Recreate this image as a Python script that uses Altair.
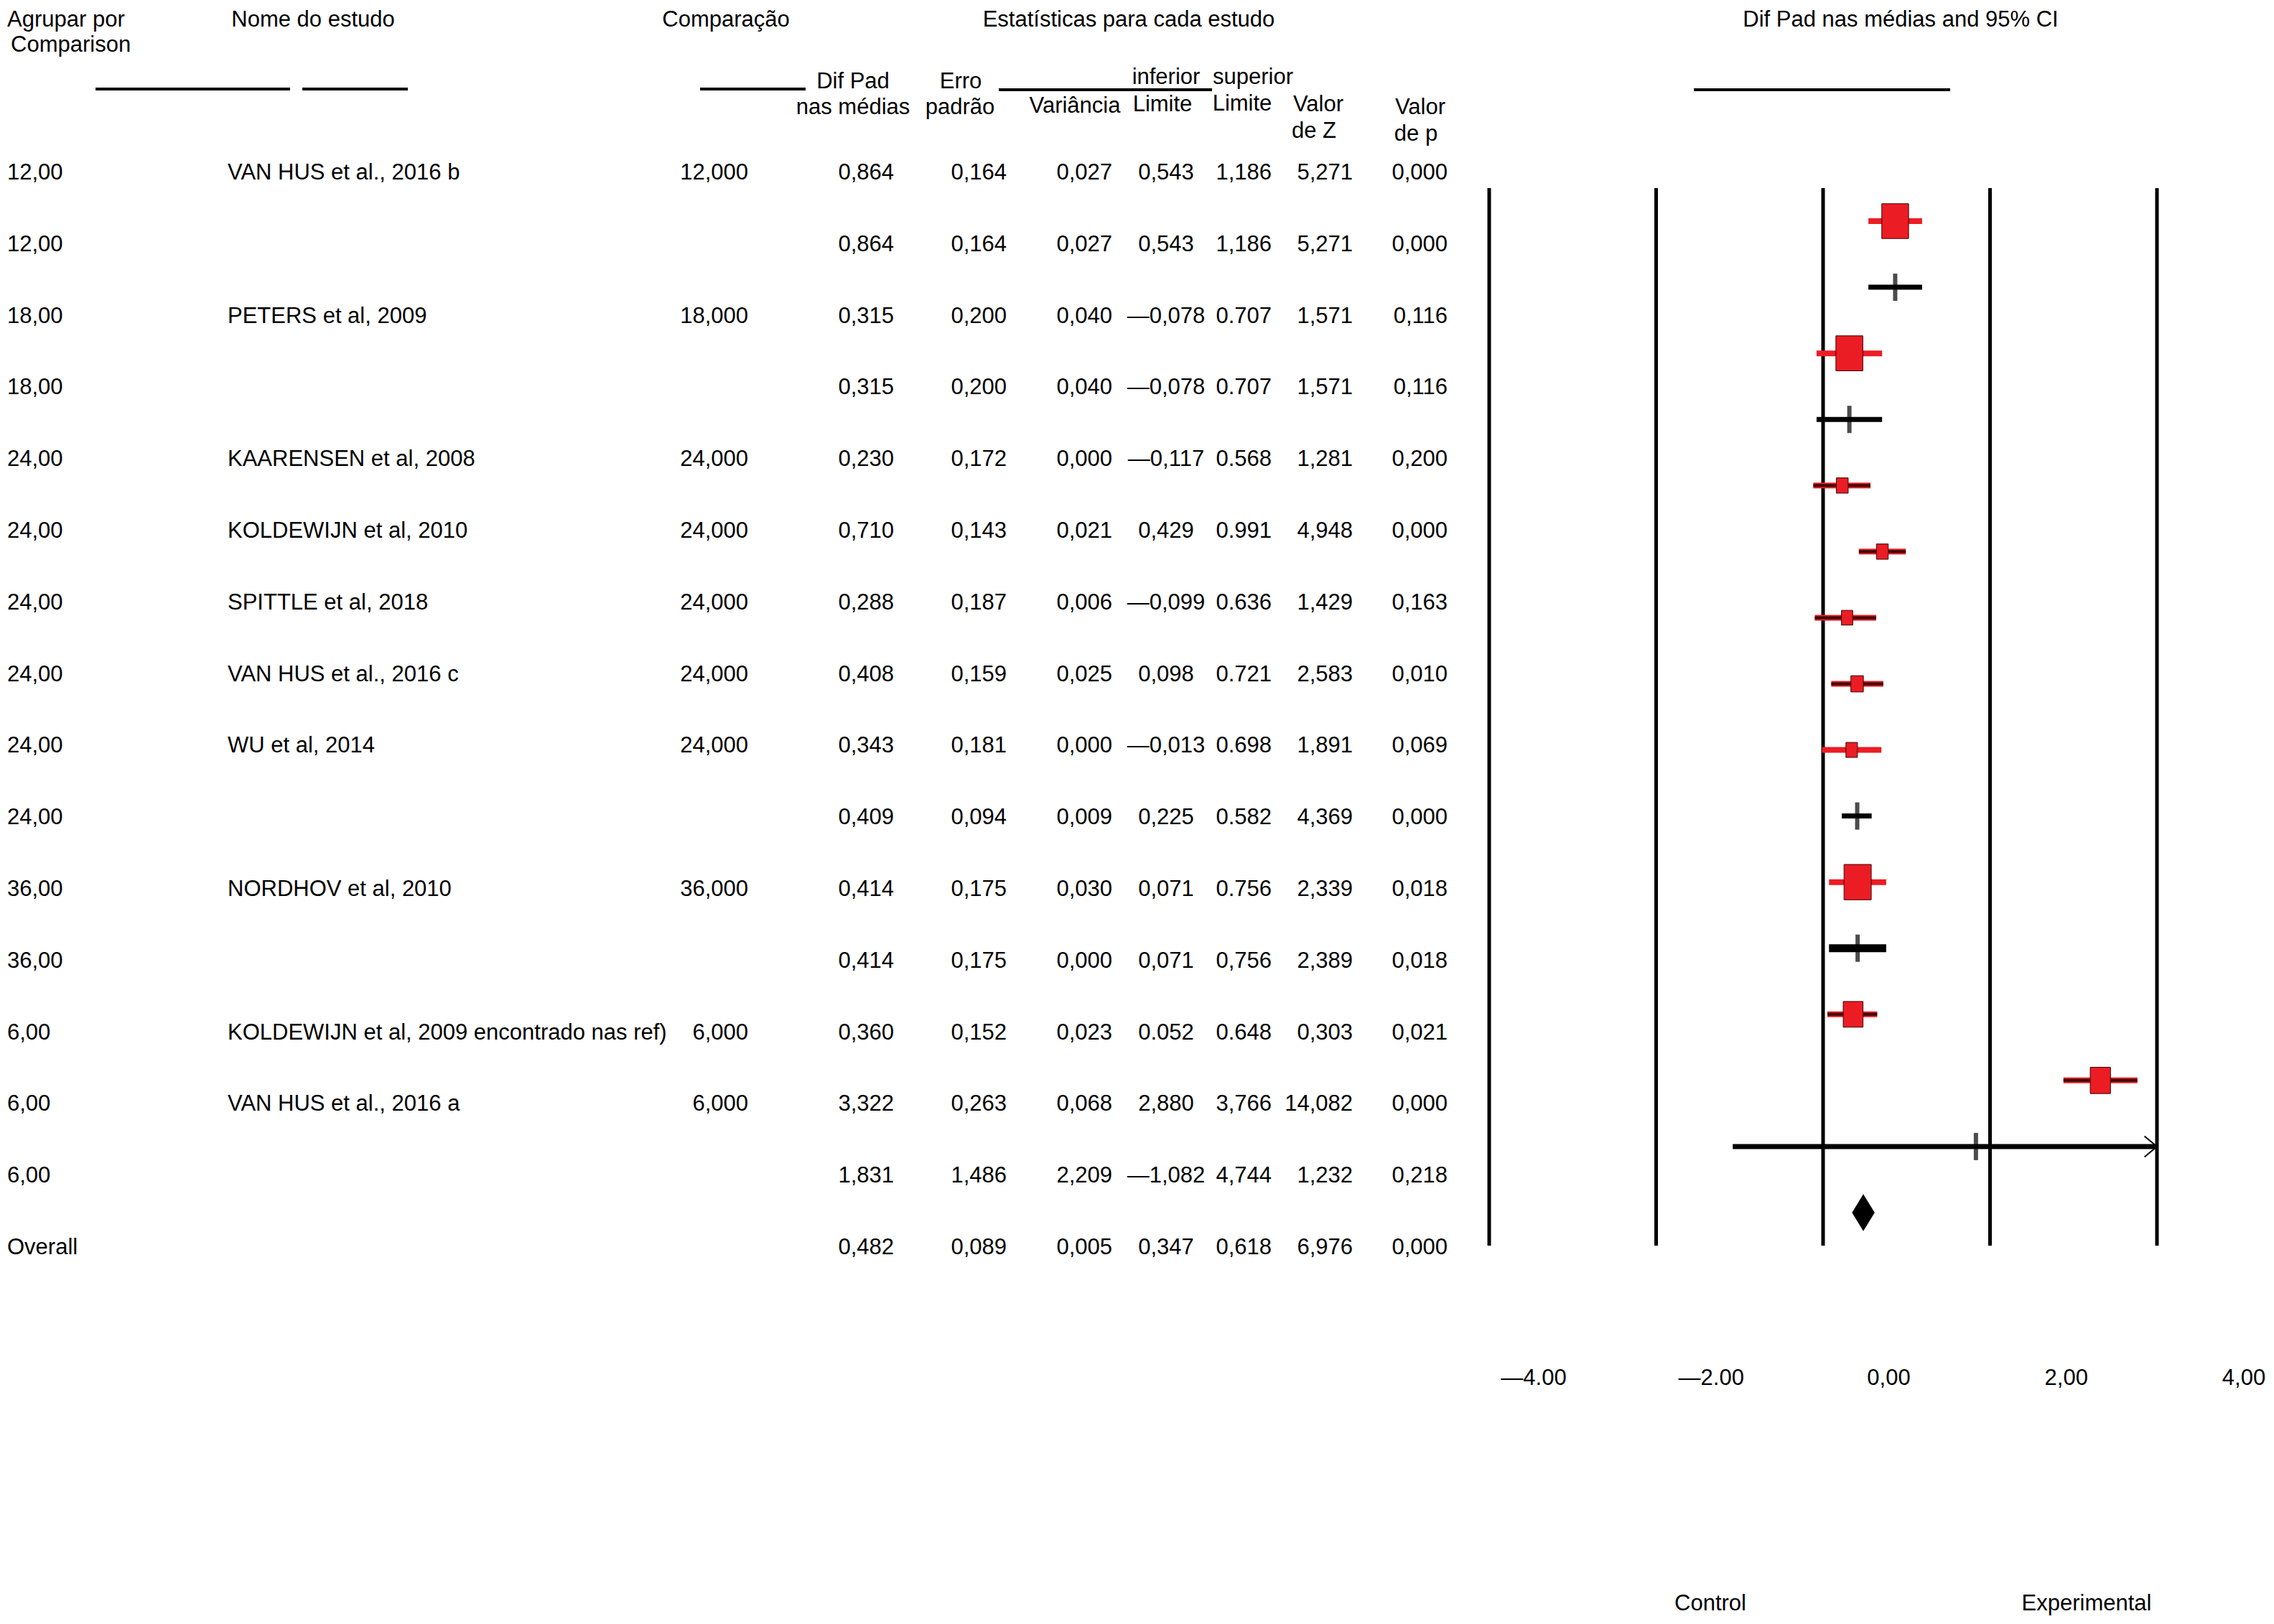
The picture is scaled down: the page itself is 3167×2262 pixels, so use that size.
import altair as alt
import pandas as pd

# ---------------- data (as printed in the reference) ----------------
grupo = ["12,00", "12,00", "18,00", "18,00", "24,00", "24,00", "24,00", "24,00",
         "24,00", "24,00", "36,00", "36,00", "6,00", "6,00", "6,00", "Overall"]
estudo = ["VAN HUS et al., 2016 b", "", "PETERS et al, 2009", "",
          "KAARENSEN et al, 2008", "KOLDEWIJN et al, 2010", "SPITTLE et al, 2018",
          "VAN HUS et al., 2016 c", "WU et al, 2014", "", "NORDHOV et al, 2010", "",
          "KOLDEWIJN et al, 2009 encontrado nas ref)", "VAN HUS et al., 2016 a", "", ""]
comparacao = ["12,000", "", "18,000", "", "24,000", "24,000", "24,000", "24,000",
              "24,000", "", "36,000", "", "6,000", "6,000", "", ""]
dif_pad = ["0,864", "0,864", "0,315", "0,315", "0,230", "0,710", "0,288", "0,408",
           "0,343", "0,409", "0,414", "0,414", "0,360", "3,322", "1,831", "0,482"]
erro_padrao = ["0,164", "0,164", "0,200", "0,200", "0,172", "0,143", "0,187", "0,159",
               "0,181", "0,094", "0,175", "0,175", "0,152", "0,263", "1,486", "0,089"]
variancia = ["0,027", "0,027", "0,040", "0,040", "0,000", "0,021", "0,006", "0,025",
             "0,000", "0,009", "0,030", "0,000", "0,023", "0,068", "2,209", "0,005"]
limite_inferior = ["0,543", "0,543", "\u20140,078", "\u20140,078", "\u20140,117", "0,429",
                   "\u20140,099", "0,098", "\u20140,013", "0,225", "0,071", "0,071",
                   "0.052", "2,880", "\u20141,082", "0,347"]
limite_superior = ["1,186", "1,186", "0.707", "0.707", "0.568", "0.991", "0.636", "0.721",
                   "0.698", "0.582", "0.756", "0,756", "0.648", "3,766", "4,744", "0,618"]
valor_z = ["5,271", "5,271", "1,571", "1,571", "1,281", "4,948", "1,429", "2,583",
           "1,891", "4,369", "2,339", "2,389", "0,303", "14,082", "1,232", "6,976"]
valor_p = ["0,000", "0,000", "0,116", "0,116", "0,200", "0,000", "0,163", "0,010",
           "0,069", "0,000", "0,018", "0,018", "0,021", "0,000", "0,218", "0,000"]
tipo = ["estudo", "subgrupo", "estudo", "subgrupo", "estudo", "estudo", "estudo", "estudo",
        "estudo", "subgrupo", "estudo", "subgrupo", "estudo", "estudo", "subgrupo", "global"]
# relative weight of each study
peso = [9.8, None, 9.9, None, 1.9, 1.9, 1.75, 2.14, 1.82, None, 10.1, None, 5.35, 5.6, None, None]

eixo_valores = [-4, -2, 0, 2, 4]
eixo_rotulos = ["\u20144.00", "\u20142.00", "0,00", "2,00", "4,00"]

# ---------------- layout / style ----------------
W, H = 3151, 2242
M = 8  # page margin; layout numbers below are page coordinates
FONT = "Liberation Sans"
FS = 31
RED = "#ec1c24"
DARK = "#3a0707"

COL_X = {"grupo": 10, "estudo": 317, "comparacao": 1042, "dif": 1245, "erro": 1402,
         "var": 1549, "inf": 1624, "sup": 1771, "z": 1884, "p": 2016}
COL_ALIGN = {"grupo": "left", "estudo": "left", "comparacao": "right", "dif": "right",
             "erro": "right", "var": "right", "inf": "center", "sup": "right",
             "z": "right", "p": "right"}
TABLE_ROWS_Y = (241, 1738)     # first / last table row centre
FOREST_ROWS_Y = (308, 1689)    # first / last forest row centre
FOREST_X = (2074, 3004)        # -4 / +4 on the effect scale
TICKLABEL_X = (2136, 3125)     # -4 / +4 tick label centres
TICKLABEL_Y = 1920
LINE_DARK = [False, None, False, None, True, True, True, True, False, None, False, None, True, True, None, None]
SUB_WIDTH = {2: 7, 4: 7, 10: 7, 12: 11, 15: 7}

headers = [
    ("Agrupar por", 10, 28, "left"), ("Comparison", 15, 63, "left"),
    ("Nome do estudo", 436, 28, "center"), ("Compara\u00e7\u00e3o", 1011, 28, "center"),
    ("Estat\u00edsticas para cada estudo", 1572, 28, "center"),
    ("Dif Pad nas m\u00e9dias and 95% CI", 2647, 28, "center"),
    ("Dif Pad", 1188, 114, "center"), ("nas m\u00e9dias", 1188, 150, "center"),
    ("Erro", 1338, 114, "center"), ("padr\u00e3o", 1337, 150, "center"),
    ("Vari\u00e2ncia", 1497, 148, "center"),
    ("inferior", 1624, 108, "center"), ("Limite", 1619, 146, "center"),
    ("superior", 1745, 108, "center"), ("Limite", 1730, 145, "center"),
    ("Valor", 1836, 146, "center"), ("de Z", 1830, 183, "center"),
    ("Valor", 1978, 150, "center"), ("de p", 1972, 187, "center"),
    ("Control", 2382, 2234, "center"), ("Experimental", 2906, 2234, "center"),
]
header_rules = [(133, 404, 124), (421, 568, 124), (975, 1122, 124),
                (1391, 1688, 125), (2359, 2716, 125)]

# ---------------- scales ----------------
def sc(domain, rng):
    return alt.Scale(domain=list(domain), range=list(rng), nice=False, zero=False)

SX_PX = sc([M, W + M], [0, W])
SY_PX = sc([M, H + M], [0, H])
SY_TAB = sc([1, 16], [TABLE_ROWS_Y[0] - M, TABLE_ROWS_Y[1] - M])
SY_FOR = sc([1, 16], [FOREST_ROWS_Y[0] - M, FOREST_ROWS_Y[1] - M])
SX_FOR = sc([-4, 4], [FOREST_X[0] - M, FOREST_X[1] - M])
SX_TL = sc([-4, 4], [TICKLABEL_X[0] - M, TICKLABEL_X[1] - M])


def num(s):
    return float(s.replace("\u2014", "-").replace(",", "."))


# ---------------- tables ----------------
cols = {"grupo": grupo, "estudo": estudo, "comparacao": comparacao, "dif": dif_pad,
        "erro": erro_padrao, "var": variancia, "inf": limite_inferior,
        "sup": limite_superior, "z": valor_z, "p": valor_p}
recs = []
for k, vals in cols.items():
    for i, v in enumerate(vals):
        if v:
            recs.append({"row": i + 1, "texto": v, "xpos": COL_X[k], "al": COL_ALIGN[k]})
tab = pd.DataFrame(recs)

forest = pd.DataFrame({
    "row": list(range(1, 17)),
    "tipo": tipo,
    "est": [num(s) for s in dif_pad],
    "lower": [num(s) for s in limite_inferior],
    "upper": [num(s) for s in limite_superior],
    "peso": peso,
    "dark": LINE_DARK,
})
forest["lo_c"] = forest["lower"].clip(lower=-4)
forest["up_c"] = forest["upper"].clip(upper=4)
forest["esp"] = [SUB_WIDTH.get(r, 7) for r in forest["row"]]

studies = forest[forest.tipo == "estudo"]
subs = forest[forest.tipo == "subgrupo"]
glob = forest[forest.tipo == "global"].iloc[0]

hdr = pd.DataFrame(headers, columns=["texto", "xpos", "ypos", "al"])
hrules = pd.DataFrame(header_rules, columns=["x1", "x2", "y"])

layers = []

# header underlines
layers.append(alt.Chart(hrules).mark_rule(color="black", strokeWidth=4).encode(
    x=alt.X("x1:Q", scale=SX_PX, axis=None), x2="x2:Q",
    y=alt.Y("y:Q", scale=SY_PX, axis=None)))

# header texts
for al in ["left", "center"]:
    layers.append(alt.Chart(hdr[hdr.al == al]).mark_text(
        align=al, baseline="middle", font=FONT, fontSize=FS, color="black").encode(
        x=alt.X("xpos:Q", scale=SX_PX, axis=None),
        y=alt.Y("ypos:Q", scale=SY_PX, axis=None),
        text="texto:N"))

# table cells
for al in ["left", "right", "center"]:
    layers.append(alt.Chart(tab[tab.al == al]).mark_text(
        align=al, baseline="middle", font=FONT, fontSize=FS, color="black").encode(
        x=alt.X("xpos:Q", scale=SX_PX, axis=None),
        y=alt.Y("row:Q", scale=SY_TAB, axis=None),
        text="texto:N"))

# forest vertical reference lines
vl = pd.DataFrame({"v": eixo_valores, "y1": [0.5] * 5, "y2": [16.5] * 5})
layers.append(alt.Chart(vl).mark_rule(color="black", strokeWidth=5).encode(
    x=alt.X("v:Q", scale=SX_FOR, axis=None),
    y=alt.Y("y1:Q", scale=SY_FOR, axis=None), y2="y2:Q"))

# study CIs
layers.append(alt.Chart(studies).mark_rule(color=RED, strokeWidth=8).encode(
    x=alt.X("lo_c:Q", scale=SX_FOR, axis=None), x2="up_c:Q",
    y=alt.Y("row:Q", scale=SY_FOR, axis=None)))
layers.append(alt.Chart(studies[studies.dark == True]).mark_rule(color=DARK, strokeWidth=4).encode(
    x=alt.X("lo_c:Q", scale=SX_FOR, axis=None), x2="up_c:Q",
    y=alt.Y("row:Q", scale=SY_FOR, axis=None)))

# study squares (size ~ weight)
BOX = "M-0.77,-1L0.77,-1L0.77,1L-0.77,1Z"
layers.append(alt.Chart(studies).mark_point(
    shape=BOX, filled=True, color=RED, opacity=1, stroke=DARK, strokeWidth=1).encode(
    x=alt.X("est:Q", scale=SX_FOR, axis=None),
    y=alt.Y("row:Q", scale=SY_FOR, axis=None),
    size=alt.Size("peso:Q", scale=alt.Scale(domain=[0, 10], range=[0, 2400]), legend=None)))

# subgroup summaries: line + vertical tick
layers.append(alt.Chart(subs).mark_rule(color="black").encode(
    x=alt.X("lo_c:Q", scale=SX_FOR, axis=None), x2="up_c:Q",
    y=alt.Y("row:Q", scale=SY_FOR, axis=None),
    strokeWidth=alt.StrokeWidth("esp:Q", scale=None)))
layers.append(alt.Chart(subs).mark_tick(color="black", orient="vertical", size=38, thickness=6).encode(
    x=alt.X("est:Q", scale=SX_FOR, axis=None),
    y=alt.Y("row:Q", scale=SY_FOR, axis=None)))

# arrow where CI runs off the scale
ARROW = "M-1.2,-1L0,0L-1.2,1"
layers.append(alt.Chart(subs[subs.upper > 4]).mark_point(
    shape=ARROW, filled=False, color="black", strokeWidth=2, size=841, opacity=1).encode(
    x=alt.X("up_c:Q", scale=SX_FOR, axis=None),
    y=alt.Y("row:Q", scale=SY_FOR, axis=None)))

# overall diamond
dia = pd.DataFrame({
    "x": [glob.lower, glob.est, glob.upper],
    "y1": [glob.row, glob.row - 0.28, glob.row],
    "y2": [glob.row, glob.row + 0.28, glob.row],
})
layers.append(alt.Chart(dia).mark_area(color="black", orient="vertical", opacity=1).encode(
    x=alt.X("x:Q", scale=SX_FOR, axis=None),
    y=alt.Y("y1:Q", scale=SY_FOR, axis=None), y2="y2:Q"))

# effect-axis tick labels
tl = pd.DataFrame({"v": eixo_valores, "lab": eixo_rotulos, "y": [TICKLABEL_Y] * 5})
layers.append(alt.Chart(tl).mark_text(
    align="center", baseline="middle", font=FONT, fontSize=FS, color="black").encode(
    x=alt.X("v:Q", scale=SX_TL, axis=None),
    y=alt.Y("y:Q", scale=SY_PX, axis=None),
    text="lab:N"))

chart = alt.layer(*layers).resolve_scale(
    x="independent", y="independent", size="independent", strokeWidth="independent"
).properties(
    width=W, height=H, autosize=alt.AutoSizeParams(type="none"), padding=0,
    background="white"
).configure_view(stroke=None)

chart.save("out.html", embed_options={"renderer": "svg", "actions": False})
